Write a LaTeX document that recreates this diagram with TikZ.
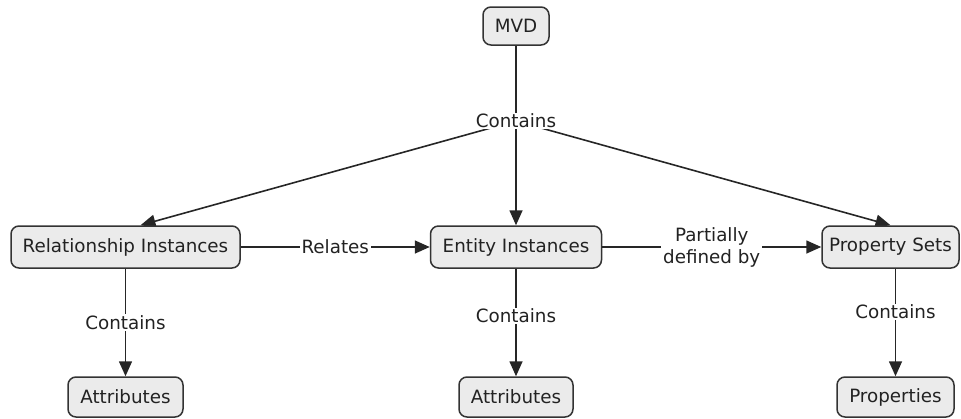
\documentclass[tikz,border=0pt]{standalone}
\usepackage{fontspec}
\setmainfont{DejaVu Sans}
\usetikzlibrary{arrows.meta,positioning,calc}
\pgfdeclarelayer{bg}
\pgfsetlayers{bg,main}
\definecolor{boxfill}{HTML}{EBEBEB}
\definecolor{boxline}{HTML}{333333}
\definecolor{edgeline}{HTML}{262626}
\definecolor{txt}{HTML}{222222}
\begin{document}
\begin{tikzpicture}[x=1pt,y=-1pt,
  concept/.style={draw=boxline,fill=boxfill,line width=1.5pt,rounded corners=8pt,
    minimum height=#1,inner xsep=4pt,inner ysep=0pt,text=txt,
    font=\fontsize{18.3}{21}\selectfont},
  concept/.default=40pt,
  link/.style={draw=edgeline,line width=1.6pt},
  arr/.style={link,-{Triangle[length=15pt,width=13pt]}},
  lbl/.style={fill=white,inner xsep=2pt,inner ysep=1pt,text=txt,font=\fontsize{18.3}{21}\selectfont,align=center},
]
\useasboundingbox (0,0) rectangle (961,418);
\node[concept=38pt,minimum width=66pt] (mvd) at (516,26) {MVD};
\node[concept=42pt,minimum width=229pt] (rel) at (125.5,247) {Relationship Instances};
\node[concept=42pt,minimum width=171pt] (ent) at (516,247) {Entity Instances};
\node[concept=42pt,minimum width=137pt] (ps) at (890.5,247) {Property Sets};
\node[concept,minimum width=115pt] (a1) at (125.5,397) {Attributes};
\node[concept,minimum width=114pt] (a2) at (516,397) {Attributes};
\node[concept,minimum width=117pt] (pr) at (895.5,397) {Properties};
\node[lbl] (c) at (516,121) {Contains};
\coordinate (reltip) at ([xshift=15pt]rel.north);
\begin{pgfonlayer}{bg}
\draw[link] (mvd) -- (c.center);
\draw[arr] (c.center) -- (reltip);
\draw[arr] (c.center) -- (ent);
\draw[arr] (c.center) -- (ps.north);
\end{pgfonlayer}
\draw[arr] (rel) -- node[lbl] {Relates} (ent);
\draw[arr] (ent) -- node[lbl,font=\fontsize{18.3}{22}\selectfont] {Partially\\defined by} (ps);
\draw[arr] (rel) -- node[lbl] {Contains} (a1);
\draw[arr] (ent) -- node[lbl,pos=0.44] {Contains} (a2);
\draw[arr] (ps.south -| pr) -- node[lbl,pos=0.4] {Contains} (pr);
\end{tikzpicture}
\end{document}
